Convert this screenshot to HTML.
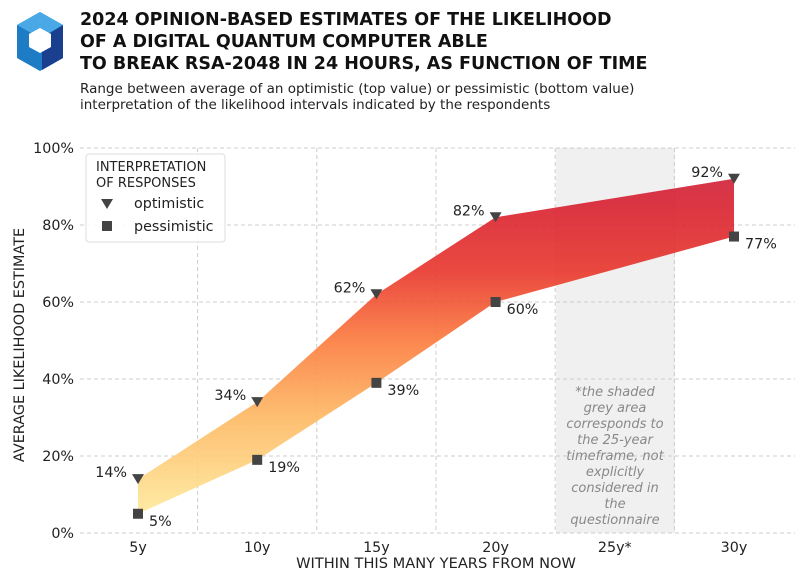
<!DOCTYPE html>
<html><head><meta charset="utf-8"><style>
body{margin:0;background:#fff;width:809px;height:576px;overflow:hidden}
svg{font-family:"DejaVu Sans","Liberation Sans",sans-serif}
</style></head><body>
<svg width="809" height="576" viewBox="0 0 809 576">
<defs>
<linearGradient id="g" gradientUnits="userSpaceOnUse" x1="0" y1="533" x2="0" y2="148">
<stop offset="0.05" stop-color="#fee99a"/>
<stop offset="0.3" stop-color="#fdb862"/>
<stop offset="0.5" stop-color="#fb7a3c"/>
<stop offset="0.68" stop-color="#e8352b"/>
<stop offset="0.85" stop-color="#d8202f"/>
<stop offset="1" stop-color="#c41f3f"/>
</linearGradient>
</defs>
<g>
<polygon points="40,12 63,25 63,58 40,71 17,58 17,25" fill="#1e7cc4"/>
<polygon points="40,12 63,25 40,38 17,25" fill="#4aa8e6"/>
<polygon points="63,25 63,58 42,70 42,38" fill="#1a3f8f"/>
<polygon points="40,28 51,34 51,47 40,53 29,47 29,34" fill="#fff"/>
</g>
<g font-weight="bold" font-size="17.5" fill="#111">
<text x="80" y="25">2024 OPINION-BASED ESTIMATES OF THE LIKELIHOOD</text>
<text x="80" y="47">OF A DIGITAL QUANTUM COMPUTER ABLE</text>
<text x="80" y="69">TO BREAK RSA-2048 IN 24 HOURS, AS FUNCTION OF TIME</text>
</g>
<g font-size="13.5" fill="#222">
<text x="80" y="93">Range between average of an optimistic (top value) or pessimistic (bottom value)</text>
<text x="80" y="109">interpretation of the likelihood intervals indicated by the respondents</text>
</g>
<rect x="556" y="148" width="119" height="385" fill="#f0f0f0"/>
<g id="grid"></g>
<path id="band" fill="url(#g)" fill-opacity="0.9"/>
<g id="marks"></g>
<g id="axes" font-size="14.3" fill="#222"></g>
<text x="615" y="396" font-size="13" font-style="italic" fill="#888" text-anchor="middle">
<tspan x="615" dy="0">*the shaded</tspan><tspan x="615" dy="16">grey area</tspan><tspan x="615" dy="16">corresponds to</tspan><tspan x="615" dy="16">the 25-year</tspan><tspan x="615" dy="16">timeframe, not</tspan><tspan x="615" dy="16">explicitly</tspan><tspan x="615" dy="16">considered in</tspan><tspan x="615" dy="16">the</tspan><tspan x="615" dy="16">questionnaire</tspan></text>
<text x="436" y="568" font-size="14.6" fill="#222" text-anchor="middle">WITHIN THIS MANY YEARS FROM NOW</text>
<text transform="translate(24,345) rotate(-90)" font-size="14.4" fill="#222" text-anchor="middle">AVERAGE LIKELIHOOD ESTIMATE</text>
<g>
<rect x="86" y="154" width="139" height="88" rx="3" fill="#fff" fill-opacity="0.9" stroke="#ddd"/>
<text x="96" y="171" font-size="13" fill="#222">INTERPRETATION</text>
<text x="96" y="187" font-size="13" fill="#222">OF RESPONSES</text>
<polygon points="101,199 113,199 107,209" fill="#444"/>
<text x="134" y="208" font-size="14.3" fill="#222">optimistic</text>
<rect x="102" y="221" width="10" height="10" fill="#444"/>
<text x="134" y="231" font-size="14.3" fill="#222">pessimistic</text>
</g>
</svg>
<script>
const categories=["5y","10y","15y","20y","25y*","30y"];
const optimistic=[14,34,62,82,null,92];
const pessimistic=[5,19,39,60,null,77];
const yTicks=[0,20,40,60,80,100];
const NS="http://www.w3.org/2000/svg";
const X=i=>138+i*119.2, Y=v=>533-v*3.85;
function mk(tag,attrs,parent){const e=document.createElementNS(NS,tag);for(const k in attrs)e.setAttribute(k,attrs[k]);parent.appendChild(e);return e;}
const grid=document.getElementById('grid'),axes=document.getElementById('axes'),marks=document.getElementById('marks');
yTicks.forEach(t=>{
 const l=mk('line',{x1:80,x2:795,y1:Y(t),y2:Y(t),stroke:'#ccc','stroke-dasharray':'4,3'},grid);
 
 
 const tx=mk('text',{x:74,y:Y(t)+5,'text-anchor':'end'},axes);tx.textContent=t+'%';
 
 
});
for(let i=0;i<categories.length-1;i++){
 const l=mk('line',{x1:X(i)+59.6,x2:X(i)+59.6,y1:148,y2:533,stroke:'#ccc','stroke-dasharray':'4,3'},grid);
 
 
}
categories.forEach((c,i)=>{
 const tx=mk('text',{x:X(i),y:552,'text-anchor':'middle'},axes);tx.textContent=c;
 
 
});
const idx=categories.map((c,i)=>i).filter(i=>optimistic[i]!=null);
let d='M'+idx.map(i=>X(i)+','+Y(optimistic[i])).join(' L');
d+=' L'+idx.slice().reverse().map(i=>X(i)+','+Y(pessimistic[i])).join(' L')+'Z';
document.getElementById('band').setAttribute('d',d);
idx.forEach(i=>{
 const x=X(i),yo=Y(optimistic[i]),yp=Y(pessimistic[i]);
 const tri=mk('polygon',{points:`${x-6},${yo-5} ${x+6},${yo-5} ${x},${yo+5}`,fill:'#444'},marks);
 
 
 const sq=mk('rect',{x:x-5,y:yp-5,width:10,height:10,fill:'#444'},marks);
 
 
 const to=mk('text',{x:x-11,y:yo-2,'text-anchor':'end','font-size':'14.3',fill:'#222'},marks);to.textContent=optimistic[i]+'%';
 
 
 const tp=mk('text',{x:x+11,y:yp+12,'font-size':'14.3',fill:'#222'},marks);tp.textContent=pessimistic[i]+'%';
 
 
});
</script>
</body></html>
